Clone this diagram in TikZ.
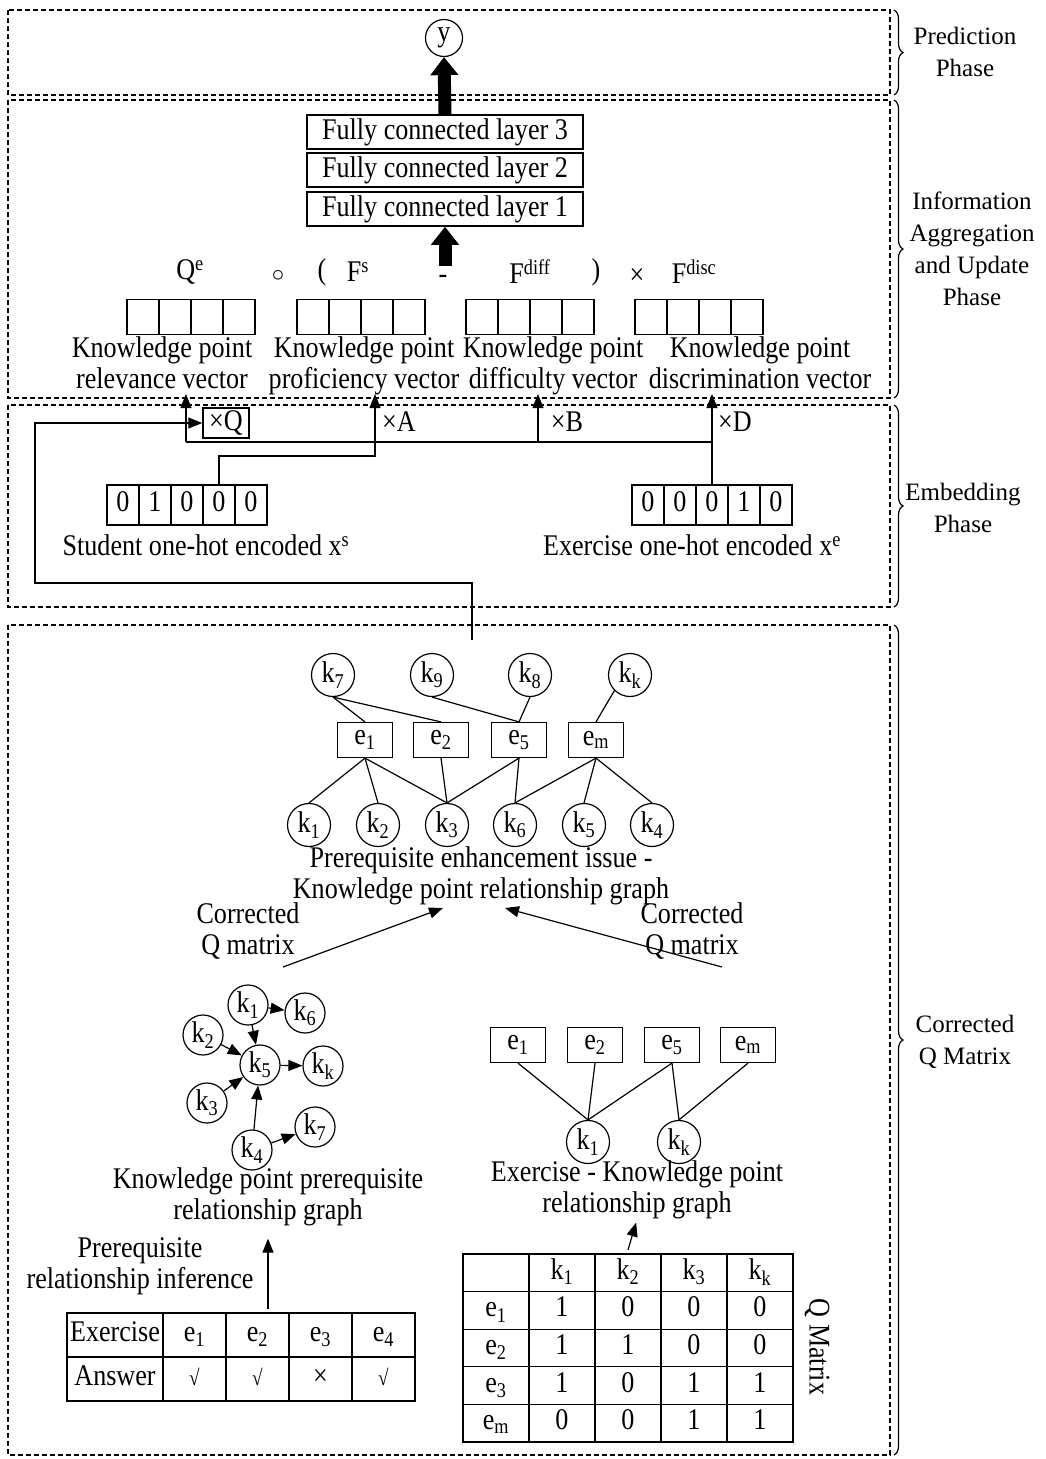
\documentclass[tikz,border=0pt]{standalone}
\usepackage{fontspec}
\setmainfont[FakeStretch=0.87]{Liberation Serif}
\newfontfamily\phasefont{Liberation Serif}
\usetikzlibrary{arrows.meta,decorations.pathreplacing,matrix}
\newcommand{\KSub}[1]{k\textsubscript{#1}}
\newcommand{\ESub}[1]{e\textsubscript{#1}}
\newcommand{\chk}{{\fontsize{22}{22}\selectfont √}}
\begin{document}
\begin{tikzpicture}[x=1pt,y=-1pt,
  every node/.style={font=\fontsize{30}{31.5}\selectfont},
  phase/.style={draw, dash pattern=on 5pt off 3pt, line width=1.2pt},
  bracedec/.style={decorate, decoration={brace, amplitude=9pt}, line width=1.2pt},
  phaselabel/.style={align=center, inner sep=0pt, font=\phasefont\fontsize{25}{32}\selectfont},
  kc/.style={draw, circle, minimum size=43, inner sep=0pt, line width=1.2pt},
  lkc/.style={draw, circle, minimum size=40, inner sep=0pt, line width=1.2pt},
  eb/.style={draw, minimum width=55, minimum height=35, inner sep=0pt, line width=1.2pt},
  ln/.style={line width=1.2pt},
  arr/.style={line width=1.2pt, -{Triangle[length=14pt 0 0,width=11pt 0]}},
  bigarr/.style={line width=13pt, -{Triangle[length=18pt 0 0,width=27pt 0]}},
  fc/.style={draw, minimum width=276, minimum height=34, inner sep=0pt, line width=1.5pt},
  lbl/.style={align=center, inner sep=0pt},
  vlbl/.style={align=center, inner sep=0pt, anchor=north},
  cell/.style={draw, line width=1.2pt, anchor=center, inner sep=0pt, text height=20pt, text depth=7pt},
  vec/.style={matrix of nodes, nodes in empty cells, column sep=-1.2pt,
    nodes={cell, minimum width=32, minimum height=35}},
  hot/.style={matrix of nodes, column sep=-1.2pt,
    nodes={cell, minimum width=32, minimum height=40}},
]
\useasboundingbox (0,0) rectangle (1046,1459);

% phase boxes
\draw[phase] (8,10) rectangle (890,95);
\draw[phase] (8,100) rectangle (890,398);
\draw[phase] (8,405) rectangle (890,607);
\draw[phase] (8,625) rectangle (890,1455);

% braces
\draw[bracedec] (894,10) -- (894,95);
\draw[bracedec] (894,100) -- (894,398);
\draw[bracedec] (894,405) -- (894,607);
\draw[bracedec] (894,625) -- (894,1455);
\node[phaselabel] (p1) at (965,52) {Prediction\\Phase};
\node[phaselabel] (p2) at (972,249) {Information\\Aggregation\\and Update\\Phase};
\node[phaselabel] (p3) at (963,508) {Embedding\\Phase};
\node[phaselabel] (p4) at (965,1042) {Corrected\\Q Matrix};

% prediction
\node[kc, minimum size=37] (y) at (444,38) {y};
\node[fc] (fc3) at (445,132) {Fully connected layer 3};
\node[fc] (fc2) at (445,170) {Fully connected layer 2};
\node[fc] (fc1) at (445,209) {Fully connected layer 1};
\draw[bigarr] (fc3.north) -- (y.south);
\coordinate (fa) at (445,266);
\draw[bigarr] (fa) -- (fc1.south);

% formula
\node (f1) at (190,272) {Q\textsuperscript{e}};
\node (f2) at (278,276) {$\circ$};
\node (f3) at (322,272) {(};
\node (f4) at (358,272) {F\textsuperscript{s}};
\node (f5) at (443,279) {-};
\node (f6) at (530,272) {F\textsuperscript{diff}};
\node (f7) at (596,272) {)};
\node (f8) at (637,276) {×};
\node (f9) at (694,272) {F\textsuperscript{disc}};

% vectors
\matrix (v1) at (191,317) [vec] {&&&\\};
\matrix (v2) at (361,317) [vec] {&&&\\};
\matrix (v3) at (530,317) [vec] {&&&\\};
\matrix (v4) at (699,317) [vec] {&&&\\};
\node[vlbl] (l1) at (162,336) {Knowledge point\\relevance vector};
\node[vlbl] (l2) at (364,336) {Knowledge point\\proficiency vector};
\node[vlbl] (l3) at (553,336) {Knowledge point\\difficulty vector};
\node[vlbl] (l4) at (760,336) {Knowledge point\\discrimination vector};

% embedding
\matrix (xs) at (187,505) [hot] {0 & 1 & 0 & 0 & 0\\};
\matrix (xe) at (712,505) [hot] {0 & 0 & 0 & 1 & 0\\};
\node (xsl) at (206,545) {Student one-hot encoded x\textsuperscript{s}};
\node (xel) at (692,545) {Exercise one-hot encoded x\textsuperscript{e}};
\node[draw, line width=1.5pt, inner sep=1pt, minimum height=30, minimum width=46] (xq) at (226,423) {×Q};
\node (xa) at (399,422) {×A};
\node (xb) at (567,422) {×B};
\node (xd) at (735,422) {×D};
\coordinate (t1) at (186,394);
\coordinate (t2) at (375,394);
\coordinate (t3) at (538,394);
\coordinate (t4) at (712,394);
\coordinate (h1) at (186,442);
\coordinate (h3) at (538,442);
\draw[ln] (xe-1-3.north) |- (h1);
\draw[arr] (h1) -- (t1);
\draw[arr] (h3) -- (t3);
\draw[arr] (xe-1-3.north) -- (t4);
\draw[arr] (xs-1-4.north) |- (375,456) -- (t2);
\coordinate (ls) at (472,640);
\draw[arr] (ls) -- (472,583) -| (35,423) -- (xq.west);

% graph top
\node[kc] (a7) at (333,675) {\KSub{7}};
\node[kc] (a9) at (432,675) {\KSub{9}};
\node[kc] (a8) at (530,675) {\KSub{8}};
\node[kc] (ak) at (630,675) {\KSub{k}};
\node[eb] (b1) at (365,740) {\ESub{1}};
\node[eb] (b2) at (441,740) {\ESub{2}};
\node[eb] (b5) at (519,740) {\ESub{5}};
\node[eb] (bm) at (596,740) {\ESub{m}};
\node[kc] (c1) at (309,825) {\KSub{1}};
\node[kc] (c2) at (378,825) {\KSub{2}};
\node[kc] (c3) at (447,825) {\KSub{3}};
\node[kc] (c6) at (515,825) {\KSub{6}};
\node[kc] (c5) at (584,825) {\KSub{5}};
\node[kc] (c4) at (652,825) {\KSub{4}};
\draw[ln] (a7.south) -- (b1.north);
\draw[ln] (a7.south) -- (b2.north);
\draw[ln] (a9.south) -- (b5.north);
\draw[ln] (a8.south) -- (b5.north);
\draw[ln] (ak.south west) -- (bm.north);
\draw[ln] (b1.south) -- (c1.north);
\draw[ln] (b1.south) -- (c2.north);
\draw[ln] (b1.south) -- (c3.north);
\draw[ln] (b2.south) -- (c3.north);
\draw[ln] (b5.south) -- (c3.north);
\draw[ln] (b5.south) -- (c6.north);
\draw[ln] (bm.south) -- (c6.north);
\draw[ln] (bm.south) -- (c5.north);
\draw[ln] (bm.south) -- (c4.north);
\node[lbl] (gcap) at (481,876) {Prerequisite enhancement issue -\\Knowledge point relationship graph};

\node[lbl] (cq1) at (248,931) {Corrected\\Q matrix};
\node[lbl] (cq2) at (692,931) {Corrected\\Q matrix};
\coordinate (s1) at (283,967);
\coordinate (e1t) at (443,908);
\coordinate (s2) at (722,967);
\coordinate (e2t) at (505,908);
\draw[arr] (s1) -- (e1t);
\draw[arr] (s2) -- (e2t);

% left graph
\node[lkc] (lk1) at (248,1005) {\KSub{1}};
\node[lkc] (lk6) at (305,1013) {\KSub{6}};
\node[lkc] (lk2) at (203,1035) {\KSub{2}};
\node[lkc] (lk5) at (260,1065) {\KSub{5}};
\node[lkc] (lkk) at (323,1066) {\KSub{k}};
\node[lkc] (lk3) at (207,1103) {\KSub{3}};
\node[lkc] (lk4) at (252,1150) {\KSub{4}};
\node[lkc] (lk7) at (315,1127) {\KSub{7}};
\draw[arr] (lk1) -- (lk6);
\draw[arr] (lk1) -- (lk5);
\draw[arr] (lk2) -- (lk5);
\draw[arr] (lk3) -- (lk5);
\draw[arr] (lk5) -- (lkk);
\draw[arr] (lk4) -- (lk5);
\draw[arr] (lk4) -- (lk7);
\node[lbl] (lcap) at (268,1197) {Knowledge point prerequisite\\relationship graph};
\node[lbl] (inf) at (140,1266) {Prerequisite\\relationship inference};

\matrix (at) at (241,1357) [matrix of nodes, column sep=-1.2pt, row sep=-1.2pt,
  nodes={cell, minimum width=63, minimum height=44},
  column 1/.style={nodes={minimum width=96}}]
{Exercise & \ESub{1} & \ESub{2} & \ESub{3} & \ESub{4}\\
 Answer & \chk & \chk & × & \chk\\};
\draw[arr, shorten >=12pt] (at.north -| lcap.south) -- (lcap.south);

% right graph
\node[eb] (re1) at (518,1045) {\ESub{1}};
\node[eb] (re2) at (595,1045) {\ESub{2}};
\node[eb] (re5) at (672,1045) {\ESub{5}};
\node[eb] (rem) at (748,1045) {\ESub{m}};
\node[kc] (rk1) at (588,1142) {\KSub{1}};
\node[kc] (rkk) at (679,1142) {\KSub{k}};
\draw[ln] (re1.south) -- (rk1.north);
\draw[ln] (re2.south) -- (rk1.north);
\draw[ln] (re5.south) -- (rk1.north);
\draw[ln] (re5.south) -- (rkk.north);
\draw[ln] (rem.south) -- (rkk.north);
\node[lbl] (rcap) at (637,1190) {Exercise - Knowledge point\\relationship graph};

\matrix (qm) at (628,1348) [matrix of nodes, nodes in empty cells, column sep=-1.2pt, row sep=-1.2pt,
  nodes={cell, minimum width=66, minimum height=37.6}]
{ & \KSub{1} & \KSub{2} & \KSub{3} & \KSub{k}\\
 \ESub{1} & 1 & 0 & 0 & 0\\
 \ESub{2} & 1 & 1 & 0 & 0\\
 \ESub{3} & 1 & 0 & 1 & 1\\
 \ESub{m} & 0 & 0 & 1 & 1\\};
\draw[arr, shorten >=3pt] (qm.north) -- (rcap.south);
\node[rotate=-90] (qml) at (817,1347) {Q Matrix};
\end{tikzpicture}
\end{document}
